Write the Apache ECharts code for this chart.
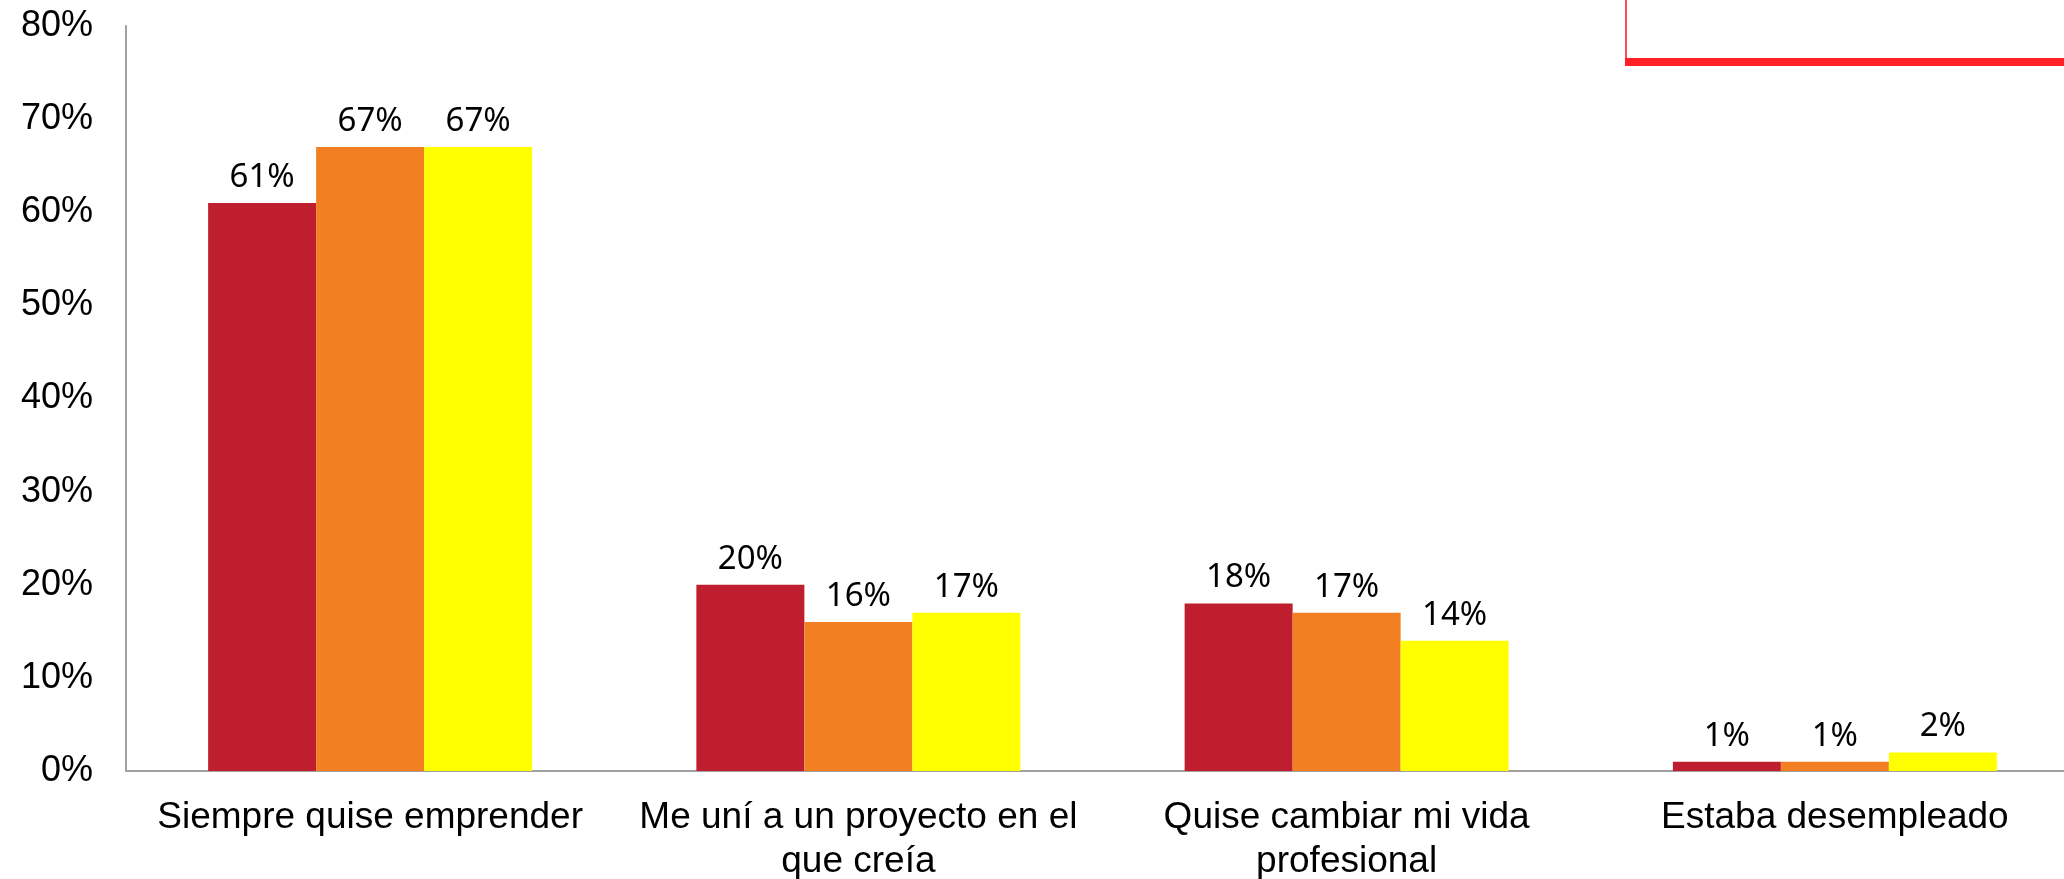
<!DOCTYPE html>
<html>
<head>
<meta charset="utf-8">
<script src="https://cdn.jsdelivr.net/npm/echarts@6/dist/echarts.min.js"></script>
<style>
  html, body { margin: 0; padding: 0; background: #fff; overflow: hidden; }
  #chart { width: 2120px; height: 879px; }
</style>
</head>
<body>
<div id="chart"></div>
<script>
const categories = [
  'Siempre quise emprender',
  'Me uní a un proyecto en el\nque creía',
  'Quise cambiar mi vida\nprofesional',
  'Estaba desempleado'
]
const serieRoja = [61, 20, 18, 1]
const serieNaranja = [67, 16, 17, 1]
const serieAmarilla = [67, 17, 14, 2]
const colores = ['#BE1E2D', '#F28022', '#FFFF00']

const chart = echarts.init(document.getElementById('chart'))

const labelStyle = {
  show: true,
  position: 'top',
  distance: 9,
  formatter: '{c}%',
  color: '#000',
  fontFamily: 'Noto Sans',
  fontSize: 33
}

const makeSeries = (name, data, color) => ({
  name: name,
  type: 'bar',
  data: data,
  barWidth: 108,
  barGap: '0%',
  itemStyle: { color: color },
  label: labelStyle
})

chart.setOption({
  animation: false,
  backgroundColor: '#fff',
  grid: {
    left: 126,
    top: 26,
    right: 41,
    height: 745,
    outerBoundsMode: 'none',
    containLabel: false
  },
  xAxis: {
    type: 'category',
    data: categories,
    axisLine: { lineStyle: { color: '#a0a0a0', width: 2 } },
    axisTick: { show: false },
    axisLabel: {
      color: '#000',
      fontFamily: 'Liberation Sans',
      fontSize: 37,
      lineHeight: 44,
      margin: 25,
      interval: 0
    }
  },
  yAxis: {
    type: 'value',
    min: 0,
    max: 80,
    interval: 10,
    axisLine: { show: true, lineStyle: { color: '#a0a0a0', width: 2 } },
    axisTick: { show: false },
    splitLine: { show: false },
    axisLabel: {
      formatter: '{value}%',
      color: '#000',
      fontFamily: 'Liberation Sans',
      fontSize: 36,
      margin: 33,
      padding: [11, 0, 0, 0]
    }
  },
  graphic: [
    {
      type: 'line',
      shape: { x1: 1626, y1: 0, x2: 1626, y2: 62 },
      style: { stroke: '#ff4d55', lineWidth: 2 }
    },
    {
      type: 'line',
      shape: { x1: 1625, y1: 62, x2: 2120, y2: 62 },
      style: { stroke: '#ff1f26', lineWidth: 8 }
    }
  ],
  series: [
    makeSeries('Serie 1', serieRoja, colores[0]),
    makeSeries('Serie 2', serieNaranja, colores[1]),
    makeSeries('Serie 3', serieAmarilla, colores[2])
  ]
})
</script>
</body>
</html>
